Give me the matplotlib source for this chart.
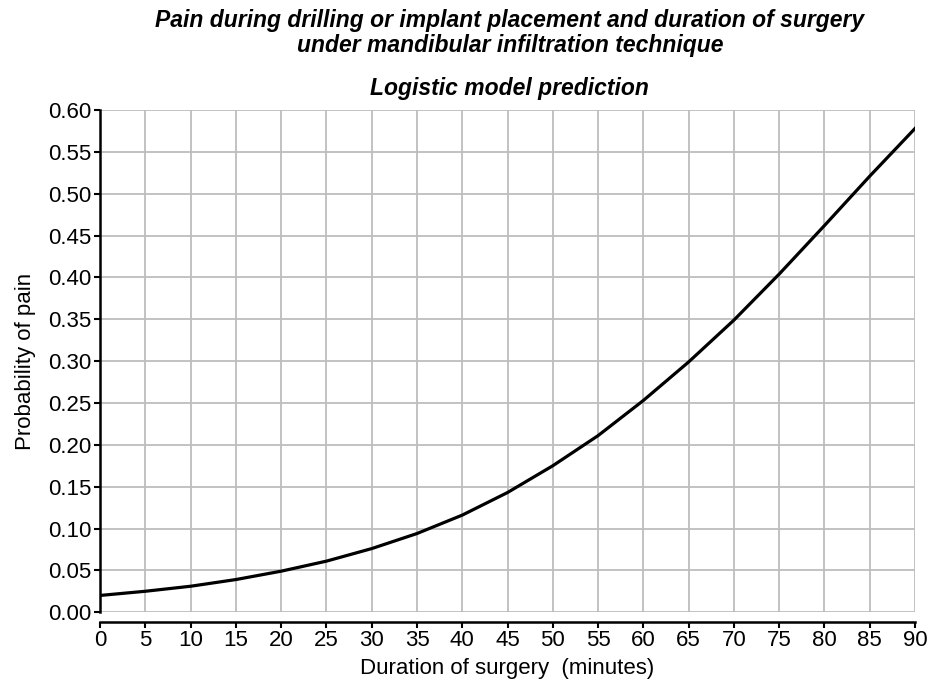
import matplotlib.pyplot as plt
from matplotlib import font_manager

# Predicted probability of pain, every 5 minutes
duration = [0, 5, 10, 15, 20, 25, 30, 35, 40, 45, 50, 55, 60, 65, 70, 75, 80, 85, 90]
prob_pain = [0.020, 0.025, 0.031, 0.039, 0.049, 0.061, 0.076, 0.094, 0.116, 0.143,
             0.175, 0.211, 0.253, 0.299, 0.349, 0.404, 0.462, 0.521, 0.578]

x_ticks = list(range(0, 91, 5))
y_ticks = [i / 100 for i in range(0, 61, 5)]

names = {f.name for f in font_manager.fontManager.ttflist}
title_font = ["Liberation Sans Narrow", "Liberation Sans"] if "Liberation Sans Narrow" in names else ["Liberation Sans"]

plt.rcParams["font.family"] = ["Liberation Sans", "DejaVu Sans"]

fig = plt.figure(figsize=(9.27, 6.84), dpi=100)
ax = fig.add_axes([0.108, 0.105, 0.879, 0.734])

ax.plot(duration, prob_pain, color="black", linewidth=2.3, zorder=3)

ax.set_xlim(0, 90)
ax.set_ylim(0, 0.60)
ax.set_xticks(x_ticks)
ax.set_yticks(y_ticks)
ax.set_yticklabels([f"{v:.2f}" for v in y_ticks])
ax.grid(True, color="#bdbdbd", linewidth=1.3)
ax.set_axisbelow(True)

for s in ["top", "right"]:
    ax.spines[s].set_visible(False)
ax.spines["bottom"].set_position(("outward", 7))
ax.spines["left"].set_linewidth(1.8)
ax.spines["bottom"].set_linewidth(1.8)
ax.tick_params(width=1.5, length=4, labelsize=16, pad=2)

ax.set_xlabel("Duration of surgery  (minutes)", fontsize=16, labelpad=5)
ax.set_ylabel("Probability of pain", fontsize=16, labelpad=9)

title_kw = dict(ha="center", va="center", fontsize=16.5, fontweight="bold",
                fontstyle="italic", family=title_font)
fig.text(0.55, 0.970, "Pain during drilling or implant placement and duration of surgery", **title_kw)
fig.text(0.55, 0.933, "under mandibular infiltration technique", **title_kw)
fig.text(0.55, 0.871, "Logistic model prediction", **title_kw)

fig.savefig("out.png", dpi=100)
